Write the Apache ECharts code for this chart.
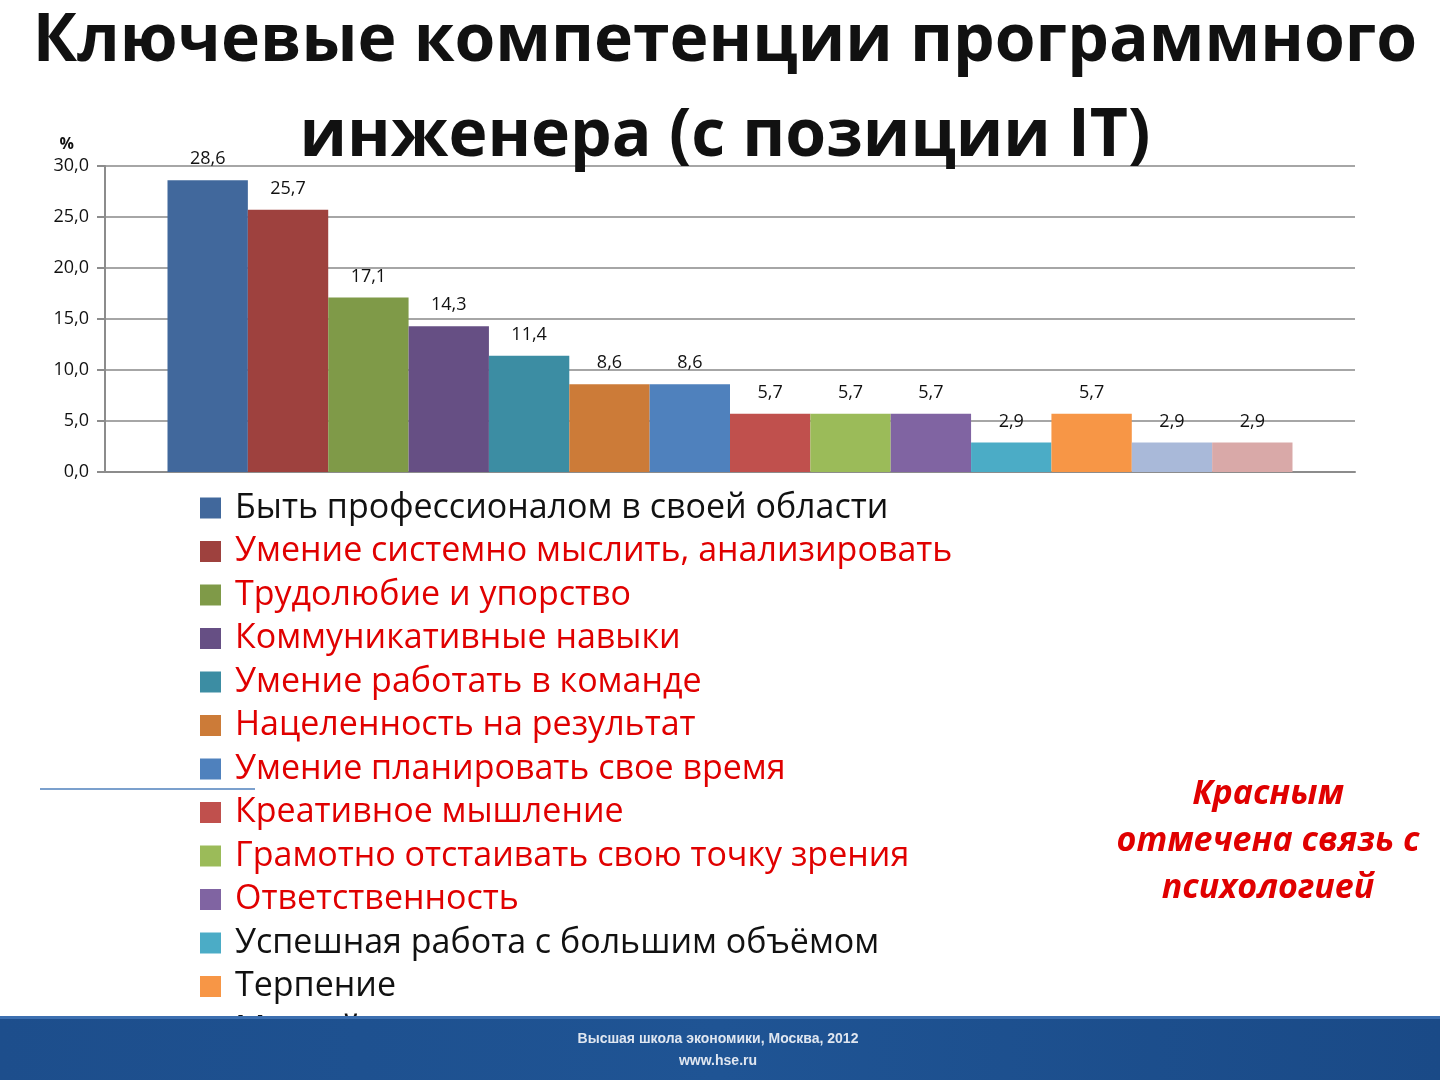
<!DOCTYPE html>
<html><head><meta charset="utf-8">
<script src="https://cdn.jsdelivr.net/npm/echarts@6/dist/echarts.min.js"></script>
<style>html,body{margin:0;padding:0;background:#fff}#c{width:1440px;height:1080px}</style>
</head><body><div id="c"></div>
<script>
const categories = [''];
const seriesNames = [
  'Быть профессионалом в своей области',
  'Умение системно мыслить, анализировать',
  'Трудолюбие и упорство',
  'Коммуникативные навыки',
  'Умение работать в команде',
  'Нацеленность на результат',
  'Умение планировать свое время',
  'Креативное мышление',
  'Грамотно отстаивать свою точку зрения',
  'Ответственность',
  'Успешная работа с большим объёмом',
  'Терпение',
  'Меткий взгляд',
  'Другое'
];
const values = [28.6, 25.7, 17.1, 14.3, 11.4, 8.6, 8.6, 5.7, 5.7, 5.7, 2.9, 5.7, 2.9, 2.9];
const psychology = [false, true, true, true, true, true, true, true, true, true, false, false, false, false];
const colors = ['#41689C','#9E413E','#7F9A48','#664F84','#3C8DA3','#CC7B38','#4F81BD','#C0504D','#9BBB59','#8064A2','#4BACC6','#F79646','#A9B9D9','#D9A9A8'];
const yTicks = [0, 5, 10, 15, 20, 25, 30];

const FONT = '"Open Sans", Lato, sans-serif';
const fmt = v => v.toFixed(1).replace('.', ',');

const chart = echarts.init(document.getElementById('c'));
chart.setOption({
  animation: false,
  textStyle: {fontFamily: FONT},
  grid: {left: 105, right: 85, top: 166, bottom: 608, containLabel: false},
  xAxis: {
    type: 'category', data: categories,
    axisLine: {lineStyle: {color: '#8c8c8c', width: 2}},
    axisTick: {show: false}, axisLabel: {show: false}
  },
  yAxis: {
    type: 'value', min: yTicks[0], max: yTicks[yTicks.length-1], interval: 5,
    name: '%', nameLocation: 'end', nameGap: 14,
    nameTextStyle: {fontSize: 16, fontWeight: 'bold', color: '#111', align: 'right', padding: [0, 31, 0, 0], fontFamily: FONT},
    axisLine: {show: true, lineStyle: {color: '#8c8c8c', width: 2}},
    axisTick: {show: true, length: 8, lineStyle: {color: '#8c8c8c', width: 2}},
    axisLabel: {formatter: v => fmt(v), fontSize: 18, color: '#111', margin: 16, fontFamily: FONT},
    splitLine: {lineStyle: {color: '#a6a6a6', width: 2}}
  },
  legend: {
    orient: 'vertical', left: 195, top: 486, height: 700, itemWidth: 21, itemHeight: 21, itemGap: 9.5,
    icon: 'rect', z: 2,
    data: seriesNames.map((n, i) => ({name: n, textStyle: {color: psychology[i] ? '#E00000' : '#111'}})),
    textStyle: {fontSize: 34, fontFamily: FONT, padding: [0, 0, 0, 9]}
  },
  series: seriesNames.map((n, i) => ({
    type: 'bar', name: n, data: [values[i]],
    barGap: '0%', barCategoryGap: '10%',
    itemStyle: {color: colors[i]},
    label: {show: true, position: 'top', distance: 12, formatter: p => fmt(p.value), fontSize: 18, color: '#111', fontFamily: FONT}
  })),
  graphic: {
    zlevel: 1,
    elements: [
      {type: 'text', x: 725, y: 9, z: 100, style: {text: 'Ключевые компетенции программного', font: 'bold 66px ' + FONT, fill: '#111', align: 'center'}},
      {type: 'text', x: 725, y: 104, z: 100, style: {text: 'инженера (с позиции IT)', font: 'bold 66px ' + FONT, fill: '#111', align: 'center'}},
      {type: 'text', x: 1268, y: 771, z: 100, style: {text: 'Красным\nотмечена связь с\nпсихологией', font: 'italic bold 34px ' + FONT, fill: '#E00000', align: 'center', lineHeight: 47}},
      {type: 'line', z: 100, shape: {x1: 40, y1: 789, x2: 255, y2: 789}, style: {stroke: '#4F81BD', lineWidth: 1.5}},
      {type: 'rect', z: 100, shape: {x: 0, y: 1016, width: 1440, height: 64},
        style: {fill: new echarts.graphic.LinearGradient(0, 0, 1, 0, [{offset: 0, color: '#1D4E8C'}, {offset: 0.5, color: '#1F5494'}, {offset: 1, color: '#1A4A87'}])}},
      {type: 'rect', z: 101, shape: {x: 0, y: 1016, width: 1440, height: 3}, style: {fill: '#3C6FB0'}},
      {type: 'text', z: 101, x: 718, y: 1032, style: {text: 'Высшая школа экономики, Москва, 2012', font: 'bold 14px Arial, "Liberation Sans", sans-serif', fill: '#dfe6f0', align: 'center'}},
      {type: 'text', z: 101, x: 718, y: 1054, style: {text: 'www.hse.ru', font: 'bold 14px Arial, "Liberation Sans", sans-serif', fill: '#dfe6f0', align: 'center'}}
    ]
  }
});
</script></body></html>
